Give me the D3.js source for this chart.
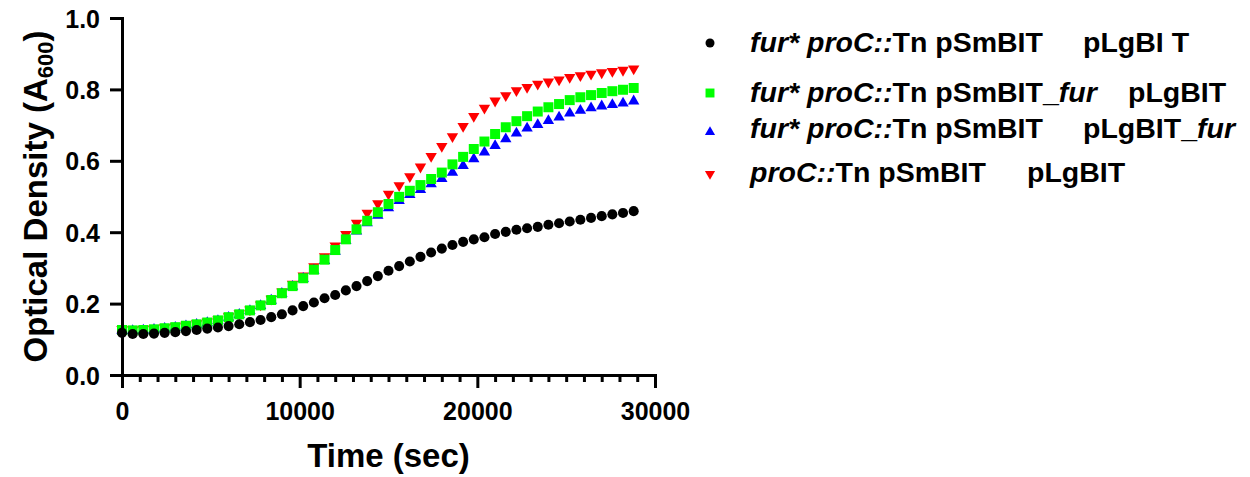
<!DOCTYPE html>
<html>
<head>
<meta charset="utf-8">
<script src="https://cdn.jsdelivr.net/npm/d3@7"></script>
<style>
  html, body { margin: 0; padding: 0; background: #fff; }
  svg { display: block; font-family: "Liberation Sans", Arial, sans-serif; font-weight: bold; }
</style>
</head>
<body>
<svg id="chart" width="1250" height="477"></svg>
<script>
// ---------------- DATA ----------------
const timeSec = [0, 600, 1200, 1800, 2400, 3000, 3600, 4200, 4800, 5400,
  6000, 6600, 7200, 7800, 8400, 9000, 9600, 10200, 10800, 11400,
  12000, 12600, 13200, 13800, 14400, 15000, 15600, 16200, 16800, 17400,
  18000, 18600, 19200, 19800, 20400, 21000, 21600, 22200, 22800, 23400,
  24000, 24600, 25200, 25800, 26400, 27000, 27600, 28200, 28800];

const furProC_SmBIT_LgBIT = [0.118, 0.115, 0.115, 0.116, 0.118, 0.120, 0.123, 0.126, 0.130, 0.133,
  0.137, 0.142, 0.148, 0.154, 0.162, 0.170, 0.181, 0.193, 0.203, 0.215,
  0.224, 0.237, 0.249, 0.263, 0.277, 0.292, 0.305, 0.318, 0.331, 0.343,
  0.354, 0.364, 0.373, 0.380, 0.386, 0.395, 0.401, 0.407, 0.411, 0.415,
  0.421, 0.425, 0.430, 0.435, 0.440, 0.445, 0.450, 0.454, 0.459];

const furProC_SmBITfur_LgBIT = [0.126, 0.125, 0.126, 0.128, 0.131, 0.134, 0.138, 0.142, 0.147, 0.153,
  0.162, 0.170, 0.181, 0.195, 0.210, 0.229, 0.249, 0.271, 0.295, 0.323,
  0.350, 0.380, 0.408, 0.432, 0.456, 0.479, 0.499, 0.516, 0.532, 0.549,
  0.567, 0.590, 0.611, 0.633, 0.654, 0.675, 0.694, 0.711, 0.725, 0.738,
  0.750, 0.759, 0.770, 0.778, 0.784, 0.790, 0.795, 0.799, 0.804];

const furProC_SmBIT_LgBITfur = [0.125, 0.124, 0.125, 0.127, 0.130, 0.133, 0.137, 0.141, 0.146, 0.152,
  0.161, 0.169, 0.180, 0.194, 0.209, 0.228, 0.248, 0.270, 0.293, 0.320,
  0.346, 0.376, 0.403, 0.426, 0.447, 0.468, 0.488, 0.505, 0.519, 0.535,
  0.550, 0.567, 0.586, 0.605, 0.624, 0.642, 0.661, 0.677, 0.691, 0.701,
  0.712, 0.722, 0.733, 0.741, 0.748, 0.753, 0.757, 0.761, 0.767];

const proC_SmBIT_LgBIT = [0.128, 0.127, 0.128, 0.130, 0.133, 0.136, 0.140, 0.144, 0.149, 0.155,
  0.164, 0.172, 0.183, 0.197, 0.213, 0.233, 0.255, 0.278, 0.304, 0.332,
  0.362, 0.394, 0.426, 0.454, 0.480, 0.507, 0.531, 0.556, 0.583, 0.613,
  0.641, 0.668, 0.697, 0.725, 0.748, 0.768, 0.783, 0.797, 0.806, 0.815,
  0.821, 0.827, 0.834, 0.839, 0.843, 0.847, 0.851, 0.854, 0.858];

const yTicks = [0.0, 0.2, 0.4, 0.6, 0.8, 1.0];
const xTicks = [0, 10000, 20000, 30000];
const xMinorTicks = [1000, 2000, 3000, 4000, 5000, 6000, 7000, 8000, 9000,
  11000, 12000, 13000, 14000, 15000, 16000, 17000, 18000, 19000,
  21000, 22000, 23000, 24000, 25000, 26000, 27000, 28000, 29000];

// legend label parts: [text, italic]
const legendFirst = [
  [["fur* proC::", true], ["Tn pSmBIT", false]],
  [["fur* proC::", true], ["Tn pSmBIT_", false], ["fur", true]],
  [["fur* proC::", true], ["Tn pSmBIT", false]],
  [["proC::", true], ["Tn pSmBIT", false]]
];
const legendSecond = [
  [["pLgBI T", false]],
  [["pLgBIT", false]],
  [["pLgBIT_", false], ["fur", true]],
  [["pLgBIT", false]]
];

// ---------------- STYLE / LAYOUT ----------------
const series = [
  { values: proC_SmBIT_LgBIT, color: "#ff0000", shape: "down" },
  { values: furProC_SmBIT_LgBITfur, color: "#0000ff", shape: "up" },
  { values: furProC_SmBITfur_LgBIT, color: "#00ff00", shape: "square" },
  { values: furProC_SmBIT_LgBIT, color: "#000000", shape: "circle" }
];
const legendStyle = [
  { color: "#000000", shape: "circle" },
  { color: "#00ff00", shape: "square" },
  { color: "#0000ff", shape: "up" },
  { color: "#ff0000", shape: "down" }
];

const svg = d3.select("#chart");
const pLeft = 122, pRight = 655, pTop = 18, pBottom = 375;

const x = d3.scaleLinear().domain([0, 30000]).range([pLeft, pRight]);
const y = d3.scaleLinear().domain([0, 1]).range([pBottom, pTop]);

function symbolPath(shape, scale) {
  if (shape === "circle") return d3.symbol(d3.symbolCircle, 80 * scale)();
  if (shape === "square") return d3.symbol(d3.symbolSquare, 100 * scale)();
  return d3.symbol(d3.symbolTriangle, 56 * scale)();
}

// points
series.forEach(s => {
  svg.append("g").selectAll("path")
    .data(s.values)
    .join("path")
    .attr("d", symbolPath(s.shape, 1))
    .attr("fill", s.color)
    .attr("transform", (v, i) => `translate(${x(timeSec[i])},${y(v)})` + (s.shape === "down" ? " rotate(180)" : ""));
});

// axes
const axisStroke = 3;
const yAxis = svg.append("g").attr("transform", `translate(${pLeft},0)`)
  .call(d3.axisLeft(y).tickValues(yTicks).tickFormat(d3.format(".1f")).tickSize(12).tickSizeOuter(0).tickPadding(10));
const xMinor = svg.append("g").attr("transform", `translate(0,${pBottom})`)
  .call(d3.axisBottom(x).tickValues(xMinorTicks).tickFormat("").tickSize(7).tickSizeOuter(0));
const xAxis = svg.append("g").attr("transform", `translate(0,${pBottom})`)
  .call(d3.axisBottom(x).tickValues(xTicks).tickFormat(d3.format("d")).tickSize(13).tickSizeOuter(0).tickPadding(14));

[yAxis, xMinor, xAxis].forEach(g => {
  g.select(".domain").attr("stroke", "#000").attr("stroke-width", axisStroke).attr("stroke-linecap", "square");
  g.selectAll(".tick line").attr("stroke", "#000").attr("stroke-width", axisStroke);
  g.selectAll(".tick text").attr("fill", "#000").attr("font-size", 25).attr("font-weight", "bold")
    .attr("font-family", "'Liberation Sans', Arial, sans-serif");
});
xMinor.select(".domain").remove();
yAxis.selectAll(".tick text").attr("dy", "0.36em");
xAxis.selectAll(".tick text").attr("dy", "0.71em");

// axis titles
svg.append("text")
  .attr("x", (pLeft + pRight) / 2).attr("y", 467)
  .attr("text-anchor", "middle").attr("font-size", 33)
  .text("Time (sec)");

const yt = svg.append("text")
  .attr("transform", `translate(47,${(pTop + pBottom) / 2}) rotate(-90)`)
  .attr("text-anchor", "middle").attr("font-size", 33);
yt.append("tspan").text("Optical Density (A");
yt.append("tspan").attr("font-size", 22).attr("dy", 6).text("600");
yt.append("tspan").attr("dy", -6).text(")");

// legend
const legendBaselines = [52, 102, 138, 182];
const legendMarkerY = [43, 93, 132, 174];
const legendSecondX = [1083, 1128, 1083, 1027];
legendStyle.forEach((st, i) => {
  const by = legendBaselines[i];
  svg.append("path")
    .attr("d", symbolPath(st.shape, 0.8))
    .attr("fill", st.color)
    .attr("transform", `translate(710,${legendMarkerY[i]})` + (st.shape === "down" ? " rotate(180)" : ""));
  const t = svg.append("text").attr("x", 750).attr("y", by).attr("font-size", 28.5);
  legendFirst[i].forEach(([txt, it]) => {
    t.append("tspan").attr("font-style", it ? "italic" : "normal").text(txt);
  });
  legendSecond[i].forEach(([txt, it], k) => {
    const ts = t.append("tspan").attr("font-style", it ? "italic" : "normal").text(txt);
    if (k === 0) ts.attr("x", legendSecondX[i]);
  });
});
</script>
</body>
</html>
